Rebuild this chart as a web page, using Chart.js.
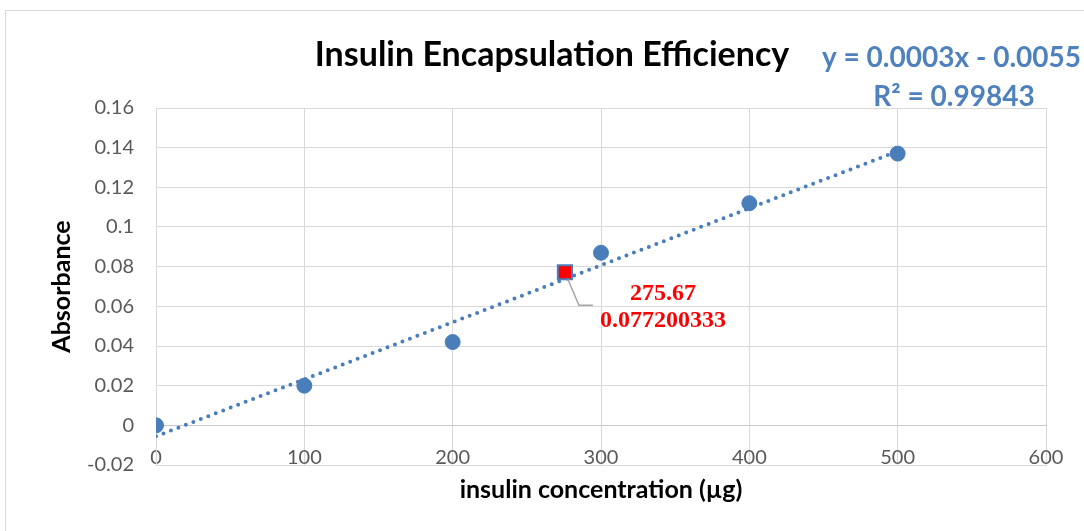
<!DOCTYPE html>
<html>
<head>
<meta charset="utf-8">
<title>Insulin Encapsulation Efficiency</title>
<script src="https://cdn.jsdelivr.net/npm/chart.js@4/dist/chart.umd.min.js"></script>
<style>
  html, body { margin: 0; padding: 0; background: #fff; }
  canvas { display: block; }
</style>
</head>
<body>
<canvas id="ch1" width="1084" height="531"></canvas>
<script>
// standard curve readings
const concs = [0, 100, 200, 300, 400, 500];
const absVals = [0, 0.020, 0.042, 0.087, 0.112, 0.137];
// interpolated sample
const sampleX = [275.67];
const sampleY = [0.077200333];
// axis ticks
const xTicks = [0, 100, 200, 300, 400, 500, 600];
const yTicks = [-0.02, 0, 0.02, 0.04, 0.06, 0.08, 0.1, 0.12, 0.14, 0.16];

const BLUE = "#4a7ebb", GRID = "#d9d9d9", TICK = "#595959";

// least squares fit for the trendline
function fit(xs, ys) {
  const n = xs.length, mx = xs.reduce((a, b) => a + b) / n, my = ys.reduce((a, b) => a + b) / n;
  let sxy = 0, sxx = 0;
  xs.forEach((x, i) => { sxy += (x - mx) * (ys[i] - my); sxx += (x - mx) * (x - mx); });
  const m = sxy / sxx;
  return { m, b: my - m * mx };
}
const lf = fit(concs, absVals);
const xLo = Math.min(...concs), xHi = Math.max(...concs);
const trend = [xLo, xHi].map(x => ({ x, y: lf.m * x + lf.b }));

const fmtY = v => String(Number(v.toFixed(2)));

const txtPlug = {
  id: "txt",
  beforeDraw(c) {
    const g = c.ctx;
    g.save(); g.strokeStyle = GRID; g.lineWidth = 1;
    g.strokeRect(5.5, 10.5, 1200, 600);
    g.restore();
  },
  afterDraw(c) {
    const g = c.ctx, sx = c.scales.x, sy = c.scales.y;
    g.save();
    g.textBaseline = "middle";
    g.textAlign = "center"; g.fillStyle = "#000";
    g.font = "bold 34px Lato";
    g.fillText("Insulin Encapsulation Efficiency", 552, 55);
    g.fillStyle = "#4f81bd"; g.font = "bold 28px Lato";
    g.textAlign = "left";
    g.fillText("y = 0.0003x - 0.0055", 822, 58);
    g.textAlign = "center";
    g.fillText("R² = 0.99843", 954, 97);
    // data label with leader line
    const px = sx.getPixelForValue(sampleX[0]), py = sy.getPixelForValue(sampleY[0]);
    g.strokeStyle = "#a6a6a6"; g.lineWidth = 1.5;
    g.beginPath(); g.moveTo(px + 3, py + 7); g.lineTo(px + 14, py + 33); g.lineTo(px + 28, py + 33); g.stroke();
    g.fillStyle = "#ff0000"; g.font = "bold 24px 'Liberation Serif'";
    g.fillText("275.67", px + 98, py + 22);
    g.fillText(String(sampleY[0]), px + 98, py + 49);
    g.restore();
  }
};

new Chart(document.getElementById("ch1"), {
  type: "scatter",
  data: { datasets: [
    { label: "Sample", data: sampleX.map((x, i) => ({ x, y: sampleY[i] })), pointStyle: "rect", pointRadius: 10, backgroundColor: "#ff0000", borderColor: BLUE, borderWidth: 2, order: 0 },
    { label: "Absorbance", data: concs.map((x, i) => ({ x, y: absVals[i] })), pointRadius: 7.5, backgroundColor: BLUE, borderColor: BLUE, order: 1 },
    { label: "Linear", data: trend, showLine: true, pointRadius: 0, borderColor: BLUE, borderWidth: 4, borderDash: [0, 8], borderCapStyle: "round", order: 2 }
  ] },
  options: {
    responsive: false, animation: false, events: [],
    layout: { padding: { top: 108, right: 38, left: 0, bottom: 0 } },
    plugins: { legend: { display: false }, tooltip: { enabled: false }, title: { display: false } },
    scales: {
      x: { type: "linear", position: "bottom", min: 0, max: 600,
        afterBuildTicks: s => { s.ticks = xTicks.map(v => ({ value: v })); },
        afterFit: s => { s.height = 66; },
        ticks: { display: false },
        grid: { color: GRID, drawTicks: false }, border: { color: GRID },
        title: { display: true, text: "insulin concentration (µg)", color: "#000", font: { family: "Lato", size: 25, weight: "bold" }, padding: { top: 0, bottom: 26 } } },
      x2: { type: "linear", position: { y: 0 }, min: 0, max: 600,
        afterBuildTicks: s => { s.ticks = xTicks.map(v => ({ value: v })); },
        ticks: { color: TICK, padding: 20, font: { family: "Lato", size: 20 } },
        grid: { display: false, drawTicks: false }, border: { color: "#c8c8c8" } },
      y: { type: "linear", min: -0.02, max: 0.16,
        afterBuildTicks: s => { s.ticks = yTicks.map(v => ({ value: v })); },
        afterFit: s => { s.width = 156; },
        ticks: { color: TICK, padding: 22, font: { family: "Lato", size: 20 }, callback: v => fmtY(v) },
        grid: { color: GRID, drawTicks: false }, border: { color: GRID },
        title: { display: true, text: "Absorbance", color: "#000", font: { family: "Lato", size: 25, weight: "bold" }, padding: { top: 47, bottom: 0 } } }
    }
  },
  plugins: [txtPlug]
});
</script>
</body>
</html>
